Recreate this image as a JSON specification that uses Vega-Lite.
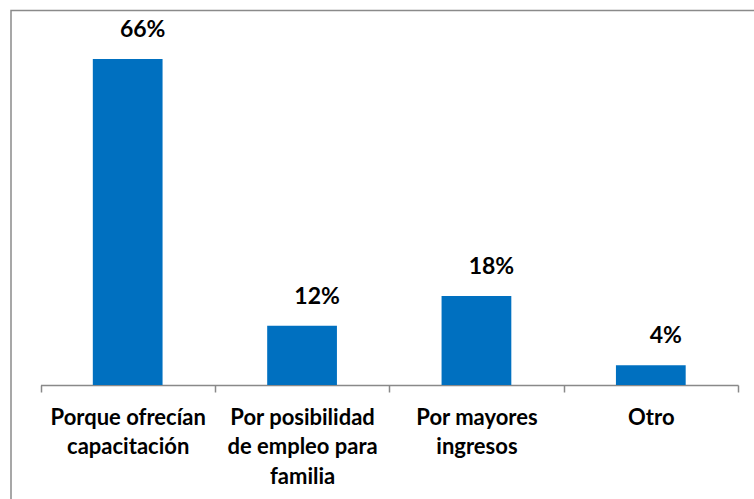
{
  "$schema": "https://vega.github.io/schema/vega-lite/v6.json",
  "autosize": "none",
  "width": 760,
  "height": 500,
  "padding": {"left": 11, "top": 10.5, "right": 0, "bottom": 0},
  "background": "white",
  "config": {
    "view": {"stroke": "#8a8a8a", "strokeWidth": 1.5},
    "font": "Lato"
  },
  "data": {
    "values": [
      {"motivo": "Porque ofrecían capacitación", "pct": 0.66},
      {"motivo": "Por posibilidad de empleo para familia", "pct": 0.12},
      {"motivo": "Por mayores ingresos", "pct": 0.18},
      {"motivo": "Otro", "pct": 0.04}
    ]
  },
  "encoding": {
    "x": {
      "field": "motivo",
      "type": "nominal",
      "sort": null,
      "scale": {"range": [29.5, 727], "paddingInner": 0, "paddingOuter": 0},
      "axis": {
        "title": null,
        "labelAngle": 0,
        "tickBand": "extent",
        "offset": -125.5,
        "domainColor": "#898989",
        "domainWidth": 1.5,
        "tickColor": "#898989",
        "tickWidth": 1.5,
        "tickSize": 7,
        "labelColor": "#000000",
        "labelFont": "Lato",
        "labelFontWeight": "bold",
        "labelFontSize": 22,
        "labelLineHeight": 29.5,
        "labelBaseline": "alphabetic",
        "labelPadding": 32,
        "labelLimit": 0,
        "labelExpr": "datum.value == 'Porque ofrecían capacitación' ? ['Porque ofrecían', 'capacitación'] : datum.value == 'Por posibilidad de empleo para familia' ? ['Por posibilidad', 'de empleo para', 'familia'] : datum.value == 'Por mayores ingresos' ? ['Por mayores', 'ingresos'] : datum.value"
      }
    },
    "y": {
      "field": "pct",
      "type": "quantitative",
      "scale": {"domain": [0, 0.7], "range": [374.5, 28.7], "nice": false, "zero": true},
      "axis": null
    }
  },
  "layer": [
    {
      "mark": {"type": "bar", "color": "#0070C0", "width": {"band": 0.4}}
    },
    {
      "mark": {
        "type": "text",
        "font": "Lato",
        "fontWeight": "bold",
        "fontSize": 23,
        "color": "#000000",
        "baseline": "alphabetic",
        "align": "center",
        "dx": 15,
        "dy": -22
      },
      "encoding": {
        "text": {"field": "pct", "type": "quantitative", "format": ".0%"}
      }
    }
  ]
}
